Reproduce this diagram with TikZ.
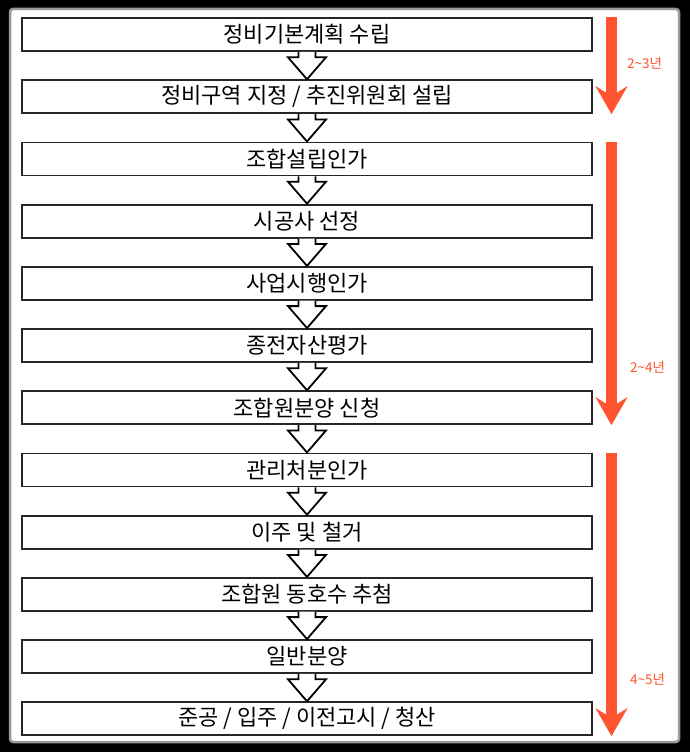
\documentclass[tikz,border=0pt]{standalone}
\usepackage{fontspec}
\setmainfont{Noto Sans CJK KR}
\usetikzlibrary{calc,arrows.meta}
\definecolor{periodred}{RGB}{255,84,48}

\begin{document}
\begin{tikzpicture}[x=1pt,y=1pt,
		stage/.style={draw=black!85,line width=1.8pt,minimum width=570pt,minimum height=33pt,inner sep=0pt,font=\fontsize{22}{26}\selectfont},
		nextarrow/.style={draw=black,line width=1.8pt,line join=miter,fill=white},
		periodarrow/.style={draw=periodred,line width=11pt,-{Stealth[length=28pt,width=32pt,inset=10pt,line width=0.5pt]}},
		periodlabel/.style={text=periodred,font=\fontsize{13.5}{16}\selectfont}]
		\fill[black] (0,0) rectangle (690,-752);
		\fill[white,draw=black!40,line width=2.5pt,rounded corners=3pt] (10,-9) rectangle (679,-742);
		\useasboundingbox (0,0) rectangle (690,-752);
		
		\foreach \t [count=\i] in {{정비기본계획 수립},{정비구역 지정 / 추진위원회 설립},{조합설립인가},{시공사 선정},{사업시행인가},{종전자산평가},{조합원분양 신청},{관리처분인가},{이주 및 철거},{조합원 동호수 추첨},{일반분양},{준공 / 입주 / 이전고시 / 청산}}{
			\node[stage] (b\i) at (307,{-34.5-62.2*(\i-1)}) {\t};
		}
		\foreach \i [evaluate=\i as \j using int(\i+1)] in {1,...,11}{
			\draw[nextarrow] ($(b\i.south)+(-8.5,0)$)--($(b\j.north)+(-8.5,22)$)--($(b\j.north)+(-19,22)$)--(b\j.north)--($(b\j.north)+(19,22)$)--($(b\j.north)+(8.5,22)$)--($(b\i.south)+(8.5,0)$);
		}
		
		\foreach \a/\b/\k in {1/2/1,3/7/2,8/12/3}{
			\coordinate (s\k) at ($(b\a.north east)+(18.6,0)$);
			\coordinate (e\k) at ($(b\b.south east)+(18.6,0)$);
			\draw[periodarrow] (s\k)--(e\k);
		}
		\node[periodlabel] (l1) at (644.5,-63) {2\textasciitilde3년};
		\node[periodlabel] (l2) at (647.5,-367.5) {2\textasciitilde4년};
		\node[periodlabel] (l3) at (647.5,-679) {4\textasciitilde5년};
	\end{tikzpicture}
\end{document}
